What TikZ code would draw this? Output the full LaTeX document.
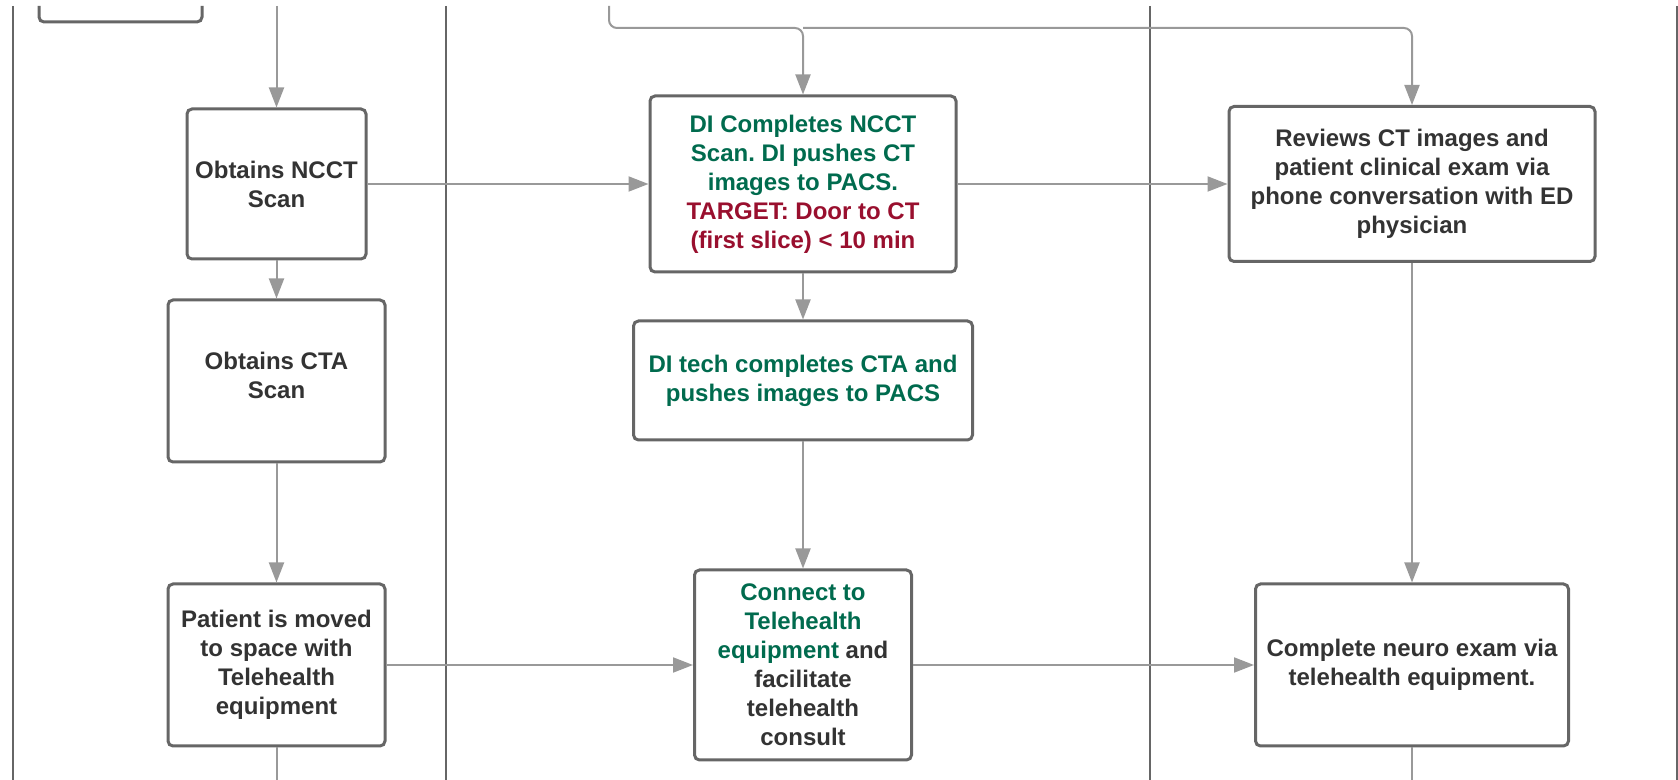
\documentclass[tikz,border=0pt]{standalone}
\usepackage{fontspec}
\setmainfont{Liberation Sans}
\usepackage{tikz}
\usetikzlibrary{arrows.meta}
\definecolor{boxgray}{HTML}{666666}
\definecolor{linegray}{HTML}{999999}
\definecolor{txtgray}{HTML}{333333}
\definecolor{digreen}{HTML}{006B4E}
\definecolor{tgtred}{HTML}{990F2E}
\tikzstyle{task}=[draw=boxgray, line width=1.5pt, rounded corners=2.5pt, fill=white, align=center, text=txtgray, font=\bfseries\fontsize{12}{14.5}\selectfont, inner sep=0pt]
\tikzstyle{flow}=[draw, color=linegray, line width=1pt, -{Triangle[length=10pt,width=7.5pt]}]
\tikzstyle{lane}=[draw=boxgray, line width=1pt]
\newcommand{\task}{\node[task]}
\frenchspacing

\begin{document}
\begin{tikzpicture}[x=0.5pt, y=-0.5pt]
            \useasboundingbox (0,0) rectangle (1678,780);
            % swimlane borders
            \foreach \lx in {13,446,1150,1677}
                \draw[lane] (\lx,6) -- (\lx,780);

            % lane 1
            \task (ncct) at (276.5,184) [minimum width=89.5pt, minimum height=75pt]{Obtains NCCT\\Scan};
            \task (cta) at (276.5,381) [minimum width=108.5pt, minimum height=81pt]{Obtains CTA\\Scan\\[-9pt]};
            \task (patient) at (276.5,665) [minimum width=108.5pt, minimum height=81pt]{Patient is moved\\to space with\\Telehealth\\equipment};
            % lane 2
            \task (di) at (803,184) [minimum width=153pt, minimum height=88pt]{\color{digreen}DI Completes NCCT\\\color{digreen}Scan. DI pushes CT\\\color{digreen}images to PACS.\\\color{tgtred}TARGET: Door to CT\\\color{tgtred}(first slice) < 10 min};
            \task (ditech) at (803,380.5) [minimum width=169.5pt, minimum height=59.5pt]{\color{digreen}DI tech completes CTA and\\\color{digreen}pushes images to PACS};
            \task (connect) at (803,665) [minimum width=108.5pt, minimum height=95pt]{\color{digreen}Connect to\\\color{digreen}Telehealth\\{\color{digreen}equipment} and\\facilitate\\telehealth\\consult};
            % lane 3
            \task (reviews) at (1412,184) [minimum width=183pt, minimum height=77.5pt]{Reviews CT images and\\patient clinical exam via\\phone conversation with ED\\physician};
            \task (neuro) at (1412,665) [minimum width=156.5pt, minimum height=81pt]{Complete neuro exam via\\telehealth equipment.};

            % cut-off step above lane 1
            \draw[draw=boxgray, line width=1.5pt, rounded corners=2.5pt] (39,6) -- (39,22) -- (202,22) -- (202,6);

            \coordinate (inNCCT) at (276.5,6);
            \coordinate (bus) at (609,6);
            \coordinate (outPatient) at (276.5,780);
            \coordinate (outNeuro) at (1412,780);

            \path
            (inNCCT) edge[flow] (ncct)
            (ncct) edge[flow] (cta)
            (cta) edge[flow] (patient)
            (ncct) edge[flow] (di)
            (di) edge[flow] (ditech)
            (ditech) edge[flow] (connect)
            (patient) edge[flow] (connect)
            (di) edge[flow] (reviews)
            (reviews) edge[flow] (neuro)
            (connect) edge[flow] (neuro)
            ;
            \draw[flow, rounded corners=4pt] (bus) |- (di.north |- 0,28) -- (di);
            \draw[flow, rounded corners=4pt] (di.north |- 0,28) -| (reviews);
            \draw[draw=linegray, line width=1pt] (patient) -- (outPatient);
            \draw[draw=linegray, line width=1pt] (neuro) -- (outNeuro);
        \end{tikzpicture}
\end{document}
